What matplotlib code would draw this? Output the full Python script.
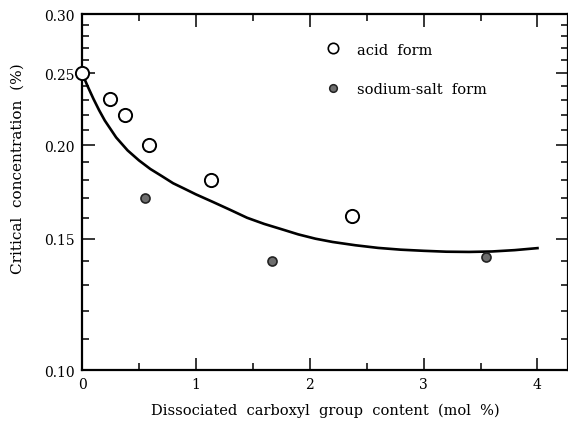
import numpy as np
import matplotlib.pyplot as plt
from matplotlib.lines import Line2D
from matplotlib.ticker import FixedLocator, NullFormatter, FixedFormatter

# measured critical concentrations
acid_x = [0.0, 0.25, 0.38, 0.59, 1.13, 2.37]
acid_y = [0.250, 0.231, 0.220, 0.200, 0.180, 0.161]

salt_x = [0.55, 1.67, 3.55]
salt_y = [0.170, 0.140, 0.1417]

# fitted trend curve
curve_x = [0.0, 0.05, 0.10, 0.15, 0.20, 0.30, 0.40, 0.50, 0.60, 0.70, 0.80,
           0.90, 1.00, 1.15, 1.30, 1.45, 1.60, 1.75, 1.90, 2.05, 2.20, 2.40,
           2.60, 2.80, 3.00, 3.20, 3.40, 3.60, 3.80, 4.00]
curve_y = [0.250, 0.240, 0.231, 0.223, 0.216, 0.205, 0.197, 0.191, 0.186,
           0.182, 0.178, 0.175, 0.172, 0.168, 0.164, 0.160, 0.157, 0.1545,
           0.152, 0.150, 0.1485, 0.147, 0.1458, 0.1450, 0.1445, 0.1441,
           0.1440, 0.1442, 0.1448, 0.1457]

y_major = [0.10, 0.15, 0.20, 0.25, 0.30]
y_labels = ["0.10", "0.15", "0.20", "0.25", "0.30"]
y_minor = [0.11, 0.12, 0.13, 0.14, 0.16, 0.17, 0.18, 0.19,
           0.21, 0.22, 0.23, 0.24, 0.26, 0.27, 0.28, 0.29]

plt.rcParams["font.family"] = ["DejaVu Serif"]

fig = plt.figure(figsize=(5.68, 4.31), dpi=100)
ax = fig.add_axes([0.1444, 0.139, 0.856, 0.826])

ax.plot(curve_x, curve_y, color="black", lw=1.9, zorder=2,
        solid_joinstyle="round")
ax.plot(acid_x, acid_y, "o", ms=9.5, mfc="white", mec="black", mew=1.4,
        ls="none", zorder=3, clip_on=False)
ax.plot(salt_x, salt_y, "o", ms=6.5, mfc="#6e6e6e", mec="#222222", mew=1.2,
        ls="none", zorder=3)

ax.set_yscale("log")
ax.set_xlim(0, 4.27)
ax.set_ylim(0.10, 0.30)

ax.yaxis.set_major_locator(FixedLocator(y_major))
ax.yaxis.set_major_formatter(FixedFormatter(y_labels))
ax.yaxis.set_minor_locator(FixedLocator(y_minor))
ax.yaxis.set_minor_formatter(NullFormatter())
ax.set_xticks([0, 1, 2, 3, 4])
ax.set_xticks([0.5, 1.5, 2.5, 3.5], minor=True)

ax.tick_params(which="both", direction="in", top=True, right=True,
               labelsize=10, width=1.1)
ax.tick_params(which="major", length=9, pad=5)
ax.tick_params(which="minor", length=5)
for s in ax.spines.values():
    s.set_linewidth(1.6)

ax.set_xlabel("Dissociated  carboxyl  group  content  (mol  %)",
              fontsize=10.5, labelpad=8)
ax.set_ylabel("Critical  concentration  (%)", fontsize=11, labelpad=14)
ax.yaxis.set_label_coords(-0.117, 0.57)

handles = [
    Line2D([], [], marker="o", ls="none", ms=7.5, mfc="white", mec="black",
           mew=1.2, label="acid  form"),
    Line2D([], [], marker="o", ls="none", ms=5.5, mfc="#6e6e6e",
           mec="#222222", mew=1.1, label="sodium-salt  form"),
]
ax.legend(handles=handles, loc="upper left", bbox_to_anchor=(0.472, 0.957),
          frameon=False, fontsize=10.5, handletextpad=1.0, labelspacing=1.75,
          handlelength=1.2)

fig.savefig("out.png", dpi=100)
